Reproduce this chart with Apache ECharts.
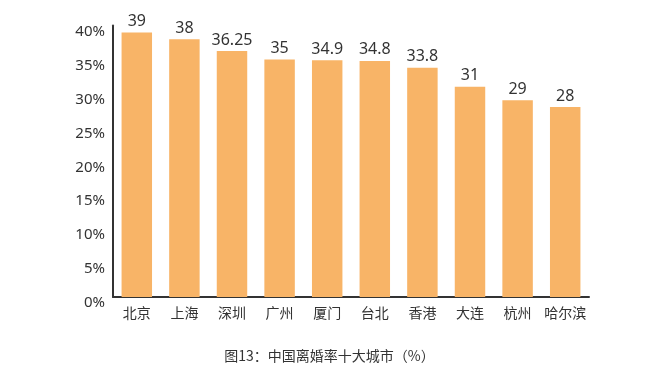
<!DOCTYPE html>
<html><head><meta charset="utf-8">
<script src="https://cdn.jsdelivr.net/npm/echarts@6/dist/echarts.min.js"></script>
<style>html,body{margin:0;padding:0;background:#fff}#c{width:659px;height:386px}</style>
</head><body><div id="c"></div>
<script>
const categories = ['北京','上海','深圳','广州','厦门','台北','香港','大连','杭州','哈尔滨'];
const values = [39, 38, 36.25, 35, 34.9, 34.8, 33.8, 31, 29, 28];
const yTicks = [0, 5, 10, 15, 20, 25, 30, 35, 40];
const title = '图13：中国离婚率十大城市（%）';

const chart = echarts.init(document.getElementById('c'));
chart.setOption({
  animation: false,
  title: {
    text: title, left: 'center', top: 344,
    textStyle: { fontSize: 14, fontWeight: 'normal', color: '#333', fontFamily: 'Noto Sans CJK SC' }
  },
  grid: { left: 113, right: 70, top: 25.6, bottom: 89 },
  xAxis: {
    type: 'category', data: categories,
    axisLine: { lineStyle: { color: '#333', width: 2 } },
    axisTick: { show: false },
    axisLabel: { interval: 0, color: '#333', fontSize: 14, margin: 9, fontFamily: 'Noto Sans CJK SC' }
  },
  yAxis: {
    type: 'value', min: yTicks[0], max: yTicks[yTicks.length-1], interval: 5,
    axisLine: { show: true, lineStyle: { color: '#333', width: 2 } },
    axisTick: { show: false },
    splitLine: { show: false },
    axisLabel: { color: '#333', fontSize: 15, margin: 8, formatter: '{value}%', verticalAlign: 'top', lineHeight: 12, fontFamily: 'Noto Sans' }
  },
  series: [{
    type: 'bar', data: values, barWidth: '64%',
    itemStyle: { color: '#F8B467' },
    label: { show: true, position: 'top', color: '#333', fontSize: 16, distance: 3, fontFamily: 'Noto Sans' }
  }]
});
</script></body></html>
